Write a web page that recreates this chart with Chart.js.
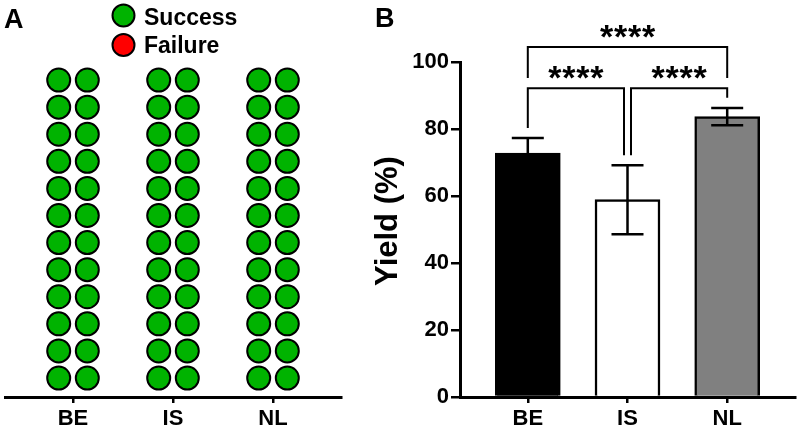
<!DOCTYPE html>
<html>
<head>
<meta charset="utf-8">
<script src="https://cdn.jsdelivr.net/npm/chart.js@4.4.1/dist/chart.umd.min.js"></script>
<style>
  html, body { margin: 0; padding: 0; background: #fff; }
  #wrap { position: relative; width: 797px; height: 430px; }
  .panel { position: absolute; top: 0; height: 430px; }
  #panelA { left: 0; width: 350px; }
  #panelB { left: 350px; width: 447px; }
</style>
</head>
<body>
<div id="wrap">
  <div class="panel" id="panelA"><canvas id="chartA"></canvas></div>
  <div class="panel" id="panelB"><canvas id="chartB"></canvas></div>
</div>
<script>
// ---- datos ----
const groups = ["BE", "IS", "NL"];

// A: intentos por grupo
const successCount = [24, 24, 24];
const failureCount = [0, 0, 0];

// B: rendimiento (%)
const yieldMean = [72.8, 58.9, 83.7];
const yieldSD   = [4.5, 10.3, 2.6];
const yTicks    = [0, 20, 40, 60, 80, 100];

// comparaciones
const sigPairs  = [[0, 1], [1, 2], [0, 2]];
const sigLabels = ["****", "****", "****"];
const sigLevels = [92.2, 92.2, 104.5];

// ---- estilos ----
const FONT = "'Liberation Sans', Arial, sans-serif";
const GREEN = "#00b300";
const RED = "#ff0000";
const barColors = ["#000000", "#ffffff", "#808080"];

Chart.defaults.font.family = FONT;
Chart.defaults.color = "#000";

const xRange = { min: 0.32, max: 3.68 };
const groupTicks = (scale) => { scale.ticks = groups.map((g, i) => ({ value: i + 1 })); };
const groupLabel = (v) => groups[v - 1] ?? "";

function xAxis() {
  return {
    type: "linear",
    ...xRange,
    offset: false,
    afterBuildTicks: groupTicks,
    afterFit: (s) => { s.height = 33; },
    ticks: { callback: groupLabel, font: { size: 22, weight: "bold" }, color: "#000", padding: 3, maxRotation: 0 },
    grid: { offset: false, drawOnChartArea: false, drawTicks: true, tickLength: 6, color: "#000", lineWidth: 2.5 },
    border: { display: true, color: "#000", width: 3 }
  };
}

// ---- A: puntos por intento ----
const successPts = [], failurePts = [];
groups.forEach((g, i) => {
  const n = successCount[i] + failureCount[i];
  for (let k = 0; k < n; k++) {
    const col = k % 2, row = Math.floor(k / 2);
    const pt = { x: i + 1 + (col ? 0.143 : -0.143), y: row + 1 };
    (k < successCount[i] ? successPts : failurePts).push(pt);
  }
});

const legendA = {
  id: "legendA",
  afterDraw(chart) {
    const ctx = chart.ctx;
    ctx.save();
    ctx.fillStyle = "#000";
    ctx.font = `bold 27px ${FONT}`;
    ctx.textBaseline = "alphabetic";
    ctx.fillText("A", 4, 28);

    const items = [["Success", GREEN, 15.5, 25], ["Failure", RED, 45, 53]];
    items.forEach(([txt, col, cy, base]) => {
      ctx.beginPath();
      ctx.arc(123.5, cy, 11, 0, Math.PI * 2);
      ctx.fillStyle = col;
      ctx.fill();
      ctx.lineWidth = 2;
      ctx.strokeStyle = "#000";
      ctx.stroke();
      ctx.fillStyle = "#000";
      ctx.font = `bold 23px ${FONT}`;
      ctx.fillText(txt, 144, base);
    });
    ctx.restore();
  }
};

new Chart(document.getElementById("chartA"), {
  type: "scatter",
  data: {
    datasets: [
      { label: "Success", data: successPts, backgroundColor: GREEN, borderColor: "#000", borderWidth: 2, pointRadius: 11.5, pointHoverRadius: 11.5 },
      { label: "Failure", data: failurePts, backgroundColor: RED, borderColor: "#000", borderWidth: 2, pointRadius: 11.5, pointHoverRadius: 11.5 }
    ]
  },
  options: {
    responsive: true, maintainAspectRatio: false, animation: false,
    layout: { autoPadding: false, padding: { left: 5, right: 9, top: 5, bottom: 0 } },
    plugins: { legend: { display: false }, tooltip: { enabled: false } },
    scales: {
      x: xAxis(),
      y: { display: false, min: 0.3, max: 14.77 }
    }
  },
  plugins: [legendA]
});

// ---- B: barras con error y significancia ----
const annotB = {
  id: "annotB",
  afterDatasetsDraw(chart) {
    const { ctx, scales: { x, y } } = chart;
    ctx.save();
    ctx.strokeStyle = "#000";
    ctx.lineWidth = 2.5;
    yieldMean.forEach((m, i) => {
      const px = x.getPixelForValue(i + 1);
      const top = y.getPixelForValue(m + yieldSD[i]);
      const bot = y.getPixelForValue(m - yieldSD[i]);
      ctx.beginPath();
      ctx.moveTo(px, top); ctx.lineTo(px, bot);
      ctx.moveTo(px - 16, top); ctx.lineTo(px + 16, top);
      ctx.moveTo(px - 16, bot); ctx.lineTo(px + 16, bot);
      ctx.stroke();
    });
    ctx.restore();
  },
  afterDraw(chart) {
    const { ctx, scales: { x, y } } = chart;
    ctx.save();
    ctx.fillStyle = "#000";
    ctx.strokeStyle = "#000";

    // letra del panel
    ctx.font = `bold 27px ${FONT}`;
    ctx.textBaseline = "alphabetic";
    ctx.fillText("B", 25, 27);

    // titulo eje y
    ctx.save();
    ctx.translate(47, 221);
    ctx.rotate(-Math.PI / 2);
    ctx.textAlign = "center";
    ctx.font = `bold 31px ${FONT}`;
    ctx.fillText("Yield (%)", 0, 0);
    ctx.restore();

    // corchetes
    const legEnd = (g, level) => {
      let v = yieldMean[g] + yieldSD[g];
      sigPairs.forEach((p, j) => {
        if (sigLevels[j] < level && g >= p[0] && g <= p[1]) v = Math.max(v, sigLevels[j]);
      });
      return v + 3;
    };
    ctx.lineWidth = 2;
    sigPairs.forEach(([a, b], j) => {
      const lvl = sigLevels[j];
      const shared = (g, side) => sigPairs.some((q, k) => k !== j && sigLevels[k] === lvl && q[side] === g);
      const xa = x.getPixelForValue(a + 1) + (shared(a, 1) ? 3.5 : 0);
      const xb = x.getPixelForValue(b + 1) - (shared(b, 0) ? 3.5 : 0);
      const yb = y.getPixelForValue(lvl);
      ctx.beginPath();
      ctx.moveTo(xa, y.getPixelForValue(legEnd(a, lvl)));
      ctx.lineTo(xa, yb);
      ctx.lineTo(xb, yb);
      ctx.lineTo(xb, y.getPixelForValue(legEnd(b, lvl)));
      ctx.stroke();

      const mid = (xa + xb) / 2;
      const stars = sigLabels[j].split("");
      ctx.font = `bold 34px ${FONT}`;
      ctx.textAlign = "center";
      stars.forEach((s, k) => {
        ctx.fillText(s, mid + (k - (stars.length - 1) / 2) * 14, yb + 1);
      });
    });
    ctx.restore();
  }
};

new Chart(document.getElementById("chartB"), {
  type: "bar",
  data: {
    datasets: [{
      label: "Yield",
      data: yieldMean.map((m, i) => ({ x: i + 1, y: m })),
      backgroundColor: barColors,
      borderColor: "#000",
      borderWidth: 2.5,
      barThickness: 65
    }]
  },
  options: {
    responsive: true, maintainAspectRatio: false, animation: false,
    layout: { autoPadding: false, padding: { left: 0, right: 2, top: 62, bottom: 0 } },
    plugins: { legend: { display: false }, tooltip: { enabled: false } },
    scales: {
      x: xAxis(),
      y: {
        min: 0, max: 100,
        afterBuildTicks: (s) => { s.ticks = yTicks.map(v => ({ value: v })); },
        afterFit: (s) => { s.width = 110; },
        ticks: { font: { size: 22, weight: "bold" }, color: "#000", padding: 2 },
        grid: { drawOnChartArea: false, drawTicks: true, tickLength: 9, color: "#000", lineWidth: 2.5 },
        border: { display: true, color: "#000", width: 3 }
      }
    }
  },
  plugins: [annotB]
});
</script>
</body>
</html>
